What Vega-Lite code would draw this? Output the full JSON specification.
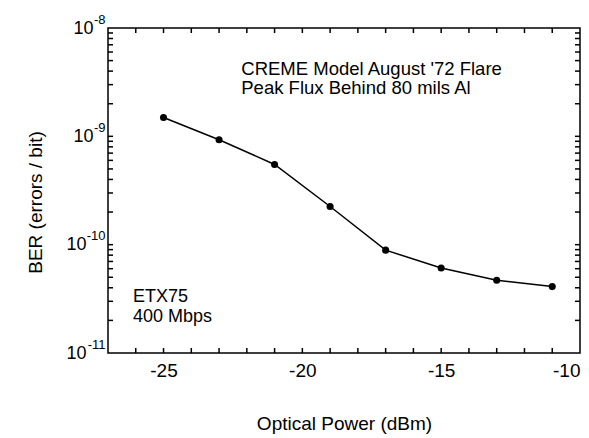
{
  "$schema": "https://vega.github.io/schema/vega-lite/v6.json",
  "width": 472,
  "height": 325,
  "autosize": {"type": "none"},
  "padding": {"left": 108, "top": 28, "right": 9, "bottom": 85},
  "background": "white",
  "config": {
    "view": {"stroke": "black", "strokeWidth": 1.5},
    "font": "Liberation Sans",
    "axis": {
      "domain": false,
      "grid": false,
      "ticks": false,
      "labelColor": "black",
      "titleColor": "black",
      "labelFont": "Liberation Sans",
      "titleFont": "Liberation Sans",
      "titleFontWeight": "normal"
    }
  },
  "datasets": {
    "ber": [
      {"power": -25, "ber": 1.49e-9},
      {"power": -23, "ber": 9.3e-10},
      {"power": -21, "ber": 5.5e-10},
      {"power": -19, "ber": 2.25e-10},
      {"power": -17, "ber": 8.9e-11},
      {"power": -15, "ber": 6.1e-11},
      {"power": -13, "ber": 4.7e-11},
      {"power": -11, "ber": 4.1e-11}
    ],
    "notes": [
      {"power": -22.2, "ber": 3.69e-9, "label": "CREME Model August '72 Flare", "size": 18.5},
      {"power": -22.2, "ber": 2.47e-9, "label": "Peak Flux Behind 80 mils Al", "size": 18.5},
      {"power": -26.1, "ber": 2.98e-11, "label": "ETX75", "size": 18},
      {"power": -26.1, "ber": 1.95e-11, "label": "400 Mbps", "size": 18}
    ],
    "xTicks": [
      {"power": -26}, {"power": -25}, {"power": -24}, {"power": -23}, {"power": -22},
      {"power": -21}, {"power": -20}, {"power": -19}, {"power": -18}, {"power": -17},
      {"power": -16}, {"power": -15}, {"power": -14}, {"power": -13}, {"power": -12},
      {"power": -11}
    ],
    "yTicks": [
      {"ber": 2e-11}, {"ber": 3e-11}, {"ber": 4e-11}, {"ber": 5e-11}, {"ber": 6e-11}, {"ber": 7e-11}, {"ber": 8e-11}, {"ber": 9e-11},
      {"ber": 1e-10}, {"ber": 2e-10}, {"ber": 3e-10}, {"ber": 4e-10}, {"ber": 5e-10}, {"ber": 6e-10}, {"ber": 7e-10}, {"ber": 8e-10}, {"ber": 9e-10},
      {"ber": 1e-9}, {"ber": 2e-9}, {"ber": 3e-9}, {"ber": 4e-9}, {"ber": 5e-9}, {"ber": 6e-9}, {"ber": 7e-9}, {"ber": 8e-9}, {"ber": 9e-9}
    ]
  },
  "resolve": {"axis": {"x": "independent", "y": "independent"}},
  "layer": [
    {
      "data": {"name": "ber"},
      "mark": {"type": "line", "color": "black", "strokeWidth": 1.5},
      "encoding": {
        "x": {
          "field": "power",
          "type": "quantitative",
          "scale": {"domain": [-27, -10], "nice": false, "zero": false},
          "axis": {
            "orient": "bottom",
            "title": "Optical Power (dBm)",
            "titleFontSize": 19,
            "titleBaseline": "top",
            "titleY": 61,
            "values": [-25, -20, -15, -10],
            "labelExpr": "'' + datum.value",
            "labelFontSize": 19,
            "labelFlush": true,
            "labelOverlap": false,
            "labelPadding": 8
          }
        },
        "y": {
          "field": "ber",
          "type": "quantitative",
          "scale": {"type": "log", "domain": [1e-11, 1e-8], "nice": false},
          "axis": {
            "orient": "left",
            "title": "BER (errors / bit)",
            "titleFontSize": 19,
            "titleAngle": -90,
            "titleBaseline": "middle",
            "titleAlign": "center",
            "titleX": -73,
            "titleY": 174,
            "values": [1e-11, 1e-10, 1e-9, 1e-8],
            "labelExpr": "'10'",
            "labelFontSize": 18,
            "labelFlush": false,
            "labelOverlap": false,
            "labelBaseline": "middle",
            "labelAlign": "right",
            "labelPadding": {"condition": {"test": "datum.value < 5e-10", "value": 22}, "value": 15}
          }
        }
      }
    },
    {
      "data": {"name": "ber"},
      "mark": {"type": "point", "filled": true, "color": "black", "opacity": 1, "size": 50},
      "encoding": {
        "x": {"field": "power", "type": "quantitative", "axis": null},
        "y": {"field": "ber", "type": "quantitative", "axis": null}
      }
    },
    {
      "data": {"name": "notes"},
      "mark": {"type": "text", "align": "left", "baseline": "alphabetic", "font": "Liberation Sans", "color": "black"},
      "encoding": {
        "x": {"field": "power", "type": "quantitative", "axis": null},
        "y": {
          "field": "ber",
          "type": "quantitative",
          "axis": {
            "orient": "left",
            "title": null,
            "values": [1e-11, 1e-10, 1e-9, 1e-8],
            "labelExpr": "'' + round(log(datum.value)/LN10)",
            "labelFontSize": 13,
            "labelFlush": false,
            "labelOverlap": false,
            "labelBaseline": "middle",
            "labelAlign": "right",
            "labelOffset": -9,
            "labelPadding": 3
          }
        },
        "text": {"field": "label"},
        "size": {"field": "size", "type": "quantitative", "scale": null}
      }
    },
    {
      "data": {"name": "xTicks"},
      "mark": {"type": "point", "shape": "M0,0L0,-1", "filled": false, "stroke": "black", "strokeWidth": 1.5, "opacity": 1, "size": 100},
      "encoding": {
        "x": {"field": "power", "type": "quantitative", "axis": null},
        "y": {"datum": 1e-11, "type": "quantitative", "axis": null}
      }
    },
    {
      "data": {"name": "xTicks"},
      "mark": {"type": "point", "shape": "M0,0L0,1", "filled": false, "stroke": "black", "strokeWidth": 1.5, "opacity": 1, "size": 100},
      "encoding": {
        "x": {"field": "power", "type": "quantitative", "axis": null},
        "y": {"datum": 1e-8, "type": "quantitative", "axis": null}
      }
    },
    {
      "data": {"name": "yTicks"},
      "mark": {"type": "point", "shape": "M0,0L1,0", "filled": false, "stroke": "black", "strokeWidth": 1.5, "opacity": 1, "size": 100},
      "encoding": {
        "x": {"datum": -27, "type": "quantitative", "axis": null},
        "y": {"field": "ber", "type": "quantitative", "axis": null}
      }
    },
    {
      "data": {"name": "yTicks"},
      "mark": {"type": "point", "shape": "M0,0L-1,0", "filled": false, "stroke": "black", "strokeWidth": 1.5, "opacity": 1, "size": 100},
      "encoding": {
        "x": {"datum": -10, "type": "quantitative", "axis": null},
        "y": {"field": "ber", "type": "quantitative", "axis": null}
      }
    }
  ]
}
